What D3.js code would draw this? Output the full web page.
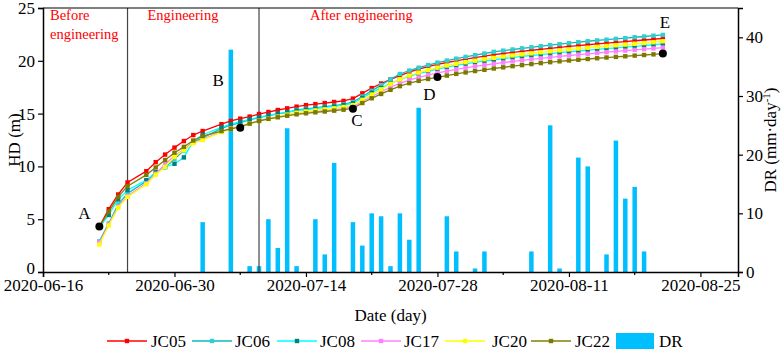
<!DOCTYPE html>
<html>
<head>
<meta charset="utf-8">
<script src="https://cdn.jsdelivr.net/npm/d3@7"></script>
<style>
  body { margin: 0; background: #fff; }
  svg { display: block; font-family: "Liberation Serif", "Times New Roman", serif; }
</style>
</head>
<body>
<div id="chart"></div>
<script>
// Measurement dates (daily, 06-26 and 07-04 missing)
const dates = [
  "2020-06-22","2020-06-23","2020-06-24","2020-06-25","2020-06-27","2020-06-28","2020-06-29","2020-06-30",
  "2020-07-01","2020-07-02","2020-07-03","2020-07-05","2020-07-06","2020-07-07","2020-07-08","2020-07-09",
  "2020-07-10","2020-07-11","2020-07-12","2020-07-13","2020-07-14","2020-07-15","2020-07-16","2020-07-17",
  "2020-07-18","2020-07-19","2020-07-20","2020-07-21","2020-07-22","2020-07-23","2020-07-24","2020-07-25",
  "2020-07-26","2020-07-27","2020-07-28","2020-07-29","2020-07-30","2020-07-31","2020-08-01","2020-08-02",
  "2020-08-03","2020-08-04","2020-08-05","2020-08-06","2020-08-07","2020-08-08","2020-08-09","2020-08-10",
  "2020-08-11","2020-08-12","2020-08-13","2020-08-14","2020-08-15","2020-08-16","2020-08-17","2020-08-18",
  "2020-08-19","2020-08-20","2020-08-21"
];

// HD (m) per point
const jc05 = [4.3,5.95,7.34,8.48,9.55,10.4,11.12,11.78,12.4,12.97,13.35,14.0,14.3,14.52,14.72,14.96,15.15,15.34,15.5,15.66,
  15.8,15.9,16.0,16.1,16.2,16.42,16.92,17.42,17.85,18.25,18.6,18.92,19.2,19.45,19.66,19.84,20.0,20.15,20.3,20.44,
  20.58,20.69,20.8,20.9,21.0,21.09,21.18,21.27,21.36,21.44,21.52,21.6,21.67,21.75,21.82,21.9,21.97,22.04,22.12];
const jc06 = [2.9,4.6,6.4,7.44,8.6,9.45,9.9,10.7,11.5,12.3,12.7,13.6,13.9,14.15,14.4,14.62,14.8,14.97,15.12,15.35,
  15.45,15.55,15.65,15.75,15.87,16.1,16.62,17.15,17.7,18.25,18.75,19.08,19.35,19.6,19.83,20.02,20.2,20.37,20.53,20.69,
  20.85,20.96,21.07,21.18,21.28,21.38,21.48,21.57,21.67,21.76,21.85,21.93,22.0,22.08,22.15,22.23,22.3,22.38,22.45];
const jc08 = [4.2,5.4,6.87,7.75,8.7,9.45,9.96,10.25,10.85,12.4,13.0,13.7,14.0,14.23,14.46,14.65,14.84,15.0,15.15,15.28,
  15.38,15.48,15.58,15.68,15.8,15.98,16.48,16.98,17.43,17.85,18.22,18.52,18.78,19.0,19.22,19.4,19.56,19.71,19.85,19.98,
  20.1,20.21,20.31,20.41,20.5,20.59,20.68,20.77,20.85,20.93,21.01,21.09,21.16,21.23,21.3,21.37,21.44,21.52,21.6];
const jc17 = [2.8,4.5,6.2,7.2,8.4,9.3,10.2,11.0,11.6,12.25,12.55,13.3,13.6,13.82,14.08,14.33,14.52,14.7,14.86,15.0,
  15.1,15.2,15.29,15.38,15.48,15.65,16.15,16.62,17.07,17.5,17.87,18.17,18.42,18.65,18.85,19.02,19.18,19.33,19.47,19.6,
  19.72,19.83,19.94,20.04,20.14,20.23,20.32,20.41,20.5,20.58,20.66,20.74,20.82,20.89,20.96,21.03,21.1,21.17,21.25];
const jc20 = [2.6,4.4,6.1,7.1,8.3,9.2,9.95,10.9,11.55,12.2,12.5,13.25,13.55,13.8,14.05,14.3,14.5,14.7,14.9,15.08,
  15.2,15.3,15.4,15.5,15.62,15.8,16.3,16.8,17.3,17.8,18.25,18.6,18.88,19.12,19.35,19.55,19.72,19.87,20.01,20.15,
  20.28,20.4,20.51,20.61,20.71,20.81,20.9,20.99,21.08,21.16,21.24,21.32,21.4,21.47,21.54,21.61,21.68,21.76,21.85];
const jc22 = [4.3,5.7,7.12,8.13,9.2,9.9,10.6,11.3,11.85,12.45,12.87,13.35,13.55,13.75,14.05,14.3,14.5,14.65,14.8,14.93,
  15.03,15.12,15.2,15.28,15.37,15.5,16.0,16.45,16.86,17.25,17.6,17.88,18.1,18.28,18.42,18.6,18.76,18.9,19.03,19.15,
  19.27,19.38,19.49,19.59,19.69,19.78,19.87,19.95,20.03,20.1,20.17,20.24,20.31,20.37,20.43,20.49,20.55,20.61,20.67];

// DR (mm/day)
const drDates = ["2020-07-03","2020-07-06","2020-07-08","2020-07-09","2020-07-10","2020-07-11","2020-07-12","2020-07-13",
  "2020-07-15","2020-07-16","2020-07-17","2020-07-19","2020-07-20","2020-07-21","2020-07-22","2020-07-23","2020-07-24",
  "2020-07-25","2020-07-26","2020-07-29","2020-07-30","2020-08-01","2020-08-02","2020-08-07","2020-08-09","2020-08-10",
  "2020-08-12","2020-08-13","2020-08-15","2020-08-16","2020-08-17","2020-08-18","2020-08-19"];
const drValues = [8.5,37.9,1.0,1.0,9.0,4.1,24.5,1.0,9.0,3.0,18.6,8.5,4.5,10.0,9.5,1.0,10.0,5.5,28.0,9.5,3.5,0.6,3.5,
  3.5,25.0,0.6,19.5,18.0,3.0,22.4,12.5,14.5,3.5];

// Annotated points A-E
const markLabels = ["A","B","C","D","E"];
const markDates = ["2020-06-22","2020-07-07","2020-07-19","2020-07-28","2020-08-21"];
const markValues = [4.3,13.66,15.47,18.47,20.68];

// Stage boundaries and titles
const stageLines = ["2020-06-25","2020-07-09"];
const stageLabels = [["Before","engineering"],["Engineering"],["After engineering"]];

const xTicks = ["2020-06-16","2020-06-30","2020-07-14","2020-07-28","2020-08-11","2020-08-25"];
const hdTicks = [0,5,10,15,20,25];
const drTicks = [0,10,20,30,40];

const seriesNames = ["JC05","JC06","JC08","JC17","JC20","JC22"];
const seriesData = [jc05, jc06, jc08, jc17, jc20, jc22];
const lineColors = ["#ff0000","#10b8b8","#00ffff","#ff80ff","#ffff00","#808000"];
const markerColors = ["#ff0000","#30d0d0","#008080","#ff80ff","#ffff00","#7a7a00"];
const barColor = "#00bfff";

// Layout
const W = 782, H = 351;
const margin = { top: 8, right: 44, bottom: 79, left: 43 };
const width = W - margin.left - margin.right;
const height = H - margin.top - margin.bottom;
const parse = d3.utcParse("%Y-%m-%d");

const svg = d3.select("#chart").append("svg")
  .attr("width", W).attr("height", H);
const g = svg.append("g")
  .attr("transform", `translate(${margin.left},${margin.top})`);

const x = d3.scaleUtc().domain([parse("2020-06-16"), parse("2020-08-29")]).range([0, width]);
const yHD = d3.scaleLinear().domain([0, 25]).range([height, 0]);
const yDR = d3.scaleLinear().domain([0, 45]).range([height, 0]);

// DR bars (behind lines)
const barW = 4.5;
g.append("g").selectAll("rect")
  .data(drDates.map((d, i) => ({ date: parse(d), v: drValues[i] })))
  .enter().append("rect")
  .attr("x", d => x(d.date) - barW / 2)
  .attr("y", d => yDR(d.v))
  .attr("width", barW)
  .attr("height", d => height - yDR(d.v))
  .attr("fill", barColor);

// stage separators
g.append("g").selectAll("line")
  .data(stageLines)
  .enter().append("line")
  .attr("x1", d => x(parse(d))).attr("x2", d => x(parse(d)))
  .attr("y1", 0).attr("y2", height)
  .attr("stroke", "#444").attr("stroke-width", 1.2);

// stage labels
const stageX = [x(parse("2020-06-16")) + 7, x(parse("2020-06-25")) + 20, x(parse("2020-07-09")) + 51];
stageLabels.forEach((lines, i) => {
  const t = g.append("text")
    .attr("x", stageX[i]).attr("y", 12)
    .attr("fill", "#ff0000")
    .style("font-size", "14.5px");
  lines.forEach((s, j) => {
    t.append("tspan").attr("x", stageX[i]).attr("dy", j === 0 ? 0 : 19).text(s);
  });
});

// HD lines
const line = d3.line()
  .x((d, i) => x(parse(dates[i])))
  .y(d => yHD(d));

seriesData.forEach((vals, k) => {
  g.append("path")
    .datum(vals)
    .attr("d", line)
    .attr("fill", "none")
    .attr("stroke", lineColors[k])
    .attr("stroke-width", 1.3);
  g.append("g").selectAll("rect")
    .data(vals)
    .enter().append("rect")
    .attr("x", (d, i) => x(parse(dates[i])) - 2.2)
    .attr("y", d => yHD(d) - 2.2)
    .attr("width", 4.4).attr("height", 4.4)
    .attr("fill", markerColors[k]);
});

// annotation dots + letters
const labelOffset = [[-15, -8], [-22, -42], [4, 17], [-8, 23], [2, -26]];
markLabels.forEach((lab, i) => {
  const cx = x(parse(markDates[i])), cy = yHD(markValues[i]);
  g.append("circle").attr("cx", cx).attr("cy", cy).attr("r", 4).attr("fill", "#000");
  g.append("text")
    .attr("x", cx + labelOffset[i][0]).attr("y", cy + labelOffset[i][1])
    .attr("text-anchor", "middle")
    .style("font-size", "17px")
    .text(lab);
});

// Axes
const fmt = d3.utcFormat("%Y-%m-%d");
const xAxis = g.append("g")
  .attr("transform", `translate(0,${height})`)
  .call(d3.axisBottom(x).tickValues(xTicks.map(parse)).tickFormat(fmt).tickSizeOuter(0).tickSize(5).tickPadding(2));
// minor x ticks
g.append("g").selectAll("line")
  .data(xTicks.slice(0, -1).map(d => d3.utcDay.offset(parse(d), 7)))
  .enter().append("line")
  .attr("x1", d => x(d)).attr("x2", d => x(d))
  .attr("y1", height).attr("y2", height + 3)
  .attr("stroke", "#000").attr("stroke-width", 1.2);

const yLeft = g.append("g")
  .call(d3.axisLeft(yHD).tickValues(hdTicks).tickSizeOuter(0).tickSize(5).tickPadding(3));
const yRight = g.append("g")
  .attr("transform", `translate(${width},0)`)
  .call(d3.axisRight(yDR).tickValues(drTicks).tickSizeOuter(0).tickSize(5).tickPadding(3));

[xAxis, yLeft, yRight].forEach(a => {
  a.selectAll("path").attr("stroke", "#000").attr("stroke-width", 1.5);
  a.selectAll("line").attr("stroke", "#000").attr("stroke-width", 1.2);
  a.selectAll("text").style("font-size", "17px").style("font-family", "'Liberation Serif', 'Times New Roman', serif").attr("fill", "#000");
});
// keep the "0" of HD clear of the first date label
yLeft.selectAll("text").filter(d => d === 0).attr("dy", "0.1em");

// top frame
g.append("line").attr("x1", 0).attr("x2", width).attr("y1", 0).attr("y2", 0)
  .attr("stroke", "#000").attr("stroke-width", 1.2);

// Axis titles
svg.append("text")
  .attr("transform", `translate(14,${margin.top + height / 2}) rotate(-90)`)
  .attr("text-anchor", "middle").attr("dy", "0.35em")
  .style("font-size", "17px").text("HD (m)");

const drTitle = svg.append("text")
  .attr("transform", `translate(770,${margin.top + height / 2}) rotate(-90)`)
  .attr("text-anchor", "middle").attr("dy", "0.35em")
  .style("font-size", "17px");
drTitle.append("tspan").text("DR (mm·day");
drTitle.append("tspan").attr("dy", -6).style("font-size", "11px").text("-1");
drTitle.append("tspan").attr("dy", 6).text(")");

svg.append("text")
  .attr("x", margin.left + width / 2).attr("y", 321)
  .attr("text-anchor", "middle")
  .style("font-size", "17px").text("Date (day)");

// Legend
const legendY = 341;
const legendX = [107, 192, 277, 361, 445, 531];
const legendTextX = [151, 235, 320, 404, 492, 575];
seriesNames.forEach((name, k) => {
  svg.append("line")
    .attr("x1", legendX[k]).attr("x2", legendX[k] + 40)
    .attr("y1", legendY).attr("y2", legendY)
    .attr("stroke", lineColors[k]).attr("stroke-width", 1.5);
  svg.append("rect")
    .attr("x", legendX[k] + 20 - 2.2).attr("y", legendY - 2.2)
    .attr("width", 4.4).attr("height", 4.4)
    .attr("fill", markerColors[k]);
  svg.append("text")
    .attr("x", legendTextX[k]).attr("y", legendY).attr("dy", "0.35em")
    .style("font-size", "17px").text(name);
});
svg.append("rect")
  .attr("x", 616).attr("y", legendY - 8).attr("width", 38).attr("height", 16)
  .attr("fill", barColor);
svg.append("text")
  .attr("x", 659).attr("y", legendY).attr("dy", "0.35em")
  .style("font-size", "17px").text("DR");
</script>
</body>
</html>
